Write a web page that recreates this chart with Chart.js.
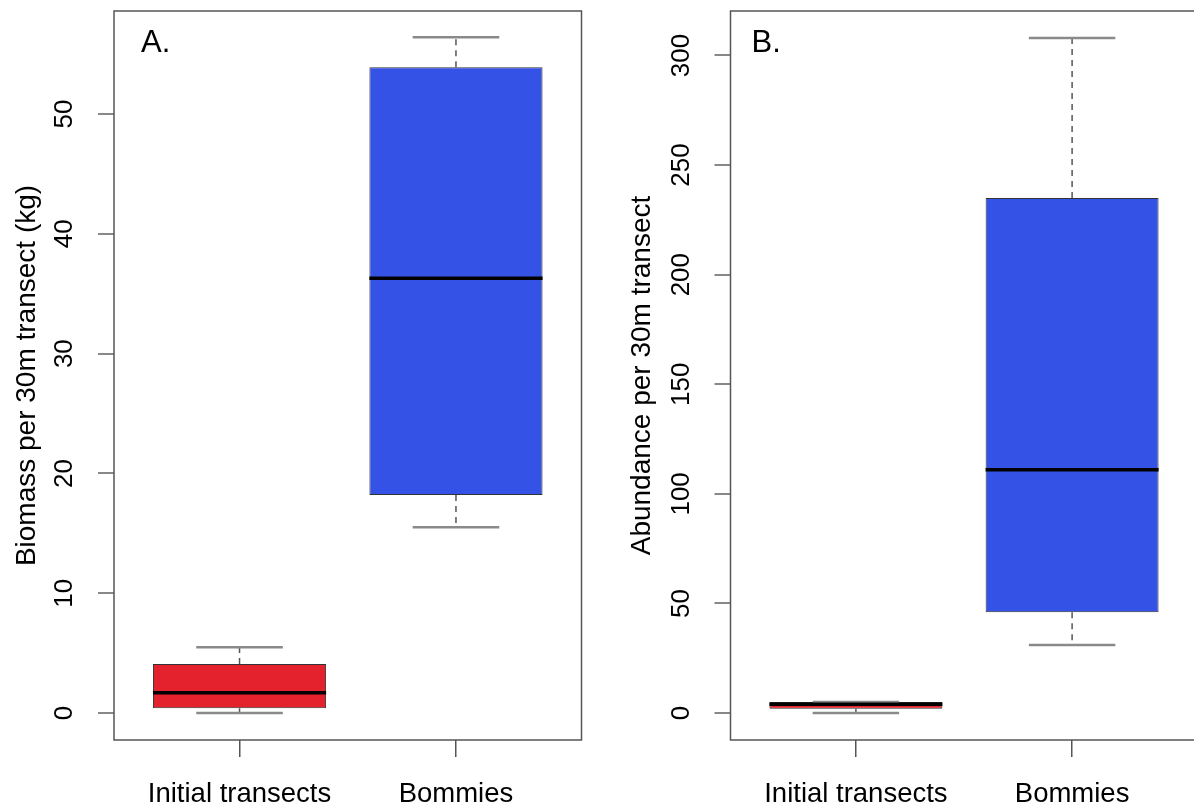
<!DOCTYPE html>
<html>
<head>
<meta charset="utf-8">
<script src="https://cdn.jsdelivr.net/npm/chart.js@4.4.1/dist/chart.umd.min.js"></script>
<style>
  html, body { margin: 0; padding: 0; background: #fff; overflow: hidden; }
  .panel { position: absolute; top: 0; height: 805px; }
  #panelA { left: 0; width: 597px; }
  #panelB { left: 597px; width: 603px; }
</style>
</head>
<body>
<div class="panel" id="panelA"><canvas id="chartA"></canvas></div>
<div class="panel" id="panelB"><canvas id="chartB"></canvas></div>
<script>
// Categories shared by both panels
const CATEGORIES = ['Initial transects', 'Bommies'];
const BOX_COLORS = ['#E3222E', '#3453E6'];

// Panel A: biomass per 30m transect (kg)
const BIOMASS_MIN = [0, 15.5];
const BIOMASS_Q1 = [0.4, 18.2];
const BIOMASS_MEDIAN = [1.7, 36.3];
const BIOMASS_Q3 = [4.1, 53.9];
const BIOMASS_MAX = [5.5, 56.4];
const BIOMASS_TICKS = [0, 10, 20, 30, 40, 50];
const BIOMASS_RANGE = [-2.25, 58.6];

// Panel B: abundance per 30m transect
const ABUND_MIN = [0, 31];
const ABUND_Q1 = [2, 46];
const ABUND_MEDIAN = [4, 111];
const ABUND_Q3 = [5, 235];
const ABUND_MAX = [5, 308];
const ABUND_TICKS = [0, 50, 100, 150, 200, 250, 300];
const ABUND_RANGE = [-12.3, 320.3];

const FONT = '"Liberation Sans", Arial, Helvetica, sans-serif';

// Whiskers, medians, frame and panel letter, all placed through the chart scales
const boxExtras = {
  id: 'boxExtras',
  afterDatasetsDraw(chart, args, opts) {
    const { ctx, chartArea } = chart;
    const xs = chart.scales.x;
    const ys = chart.scales.y;
    ctx.save();
    opts.medians.forEach((med, i) => {
      const c = i + 1;
      const xc = xs.getPixelForValue(c);
      // dashed whiskers
      ctx.strokeStyle = '#555';
      ctx.lineWidth = 1.5;
      ctx.setLineDash([6, 5]);
      ctx.beginPath();
      ctx.moveTo(xc, ys.getPixelForValue(opts.q3[i]));
      ctx.lineTo(xc, ys.getPixelForValue(opts.maxs[i]));
      ctx.moveTo(xc, ys.getPixelForValue(opts.q1[i]));
      ctx.lineTo(xc, ys.getPixelForValue(opts.mins[i]));
      ctx.stroke();
      ctx.setLineDash([]);
      // caps
      ctx.strokeStyle = '#8a8a8a';
      ctx.lineWidth = 2.5;
      ctx.beginPath();
      [opts.maxs[i], opts.mins[i]].forEach(v => {
        const y = ys.getPixelForValue(v);
        ctx.moveTo(xs.getPixelForValue(c - 0.2), y);
        ctx.lineTo(xs.getPixelForValue(c + 0.2), y);
      });
      ctx.stroke();
      // median
      ctx.strokeStyle = '#000';
      ctx.lineWidth = 3.5;
      ctx.beginPath();
      const ym = ys.getPixelForValue(med);
      ctx.moveTo(xs.getPixelForValue(c - 0.4), ym);
      ctx.lineTo(xs.getPixelForValue(c + 0.4), ym);
      ctx.stroke();
    });
    // plot frame
    ctx.strokeStyle = '#555';
    ctx.lineWidth = 1.5;
    ctx.strokeRect(chartArea.left, chartArea.top, chartArea.right - chartArea.left, chartArea.bottom - chartArea.top);
    // panel letter
    ctx.fillStyle = '#000';
    ctx.font = '31px ' + FONT;
    ctx.textBaseline = 'alphabetic';
    ctx.textAlign = 'left';
    ctx.fillText(opts.letter, chartArea.left + opts.letterDx, chartArea.top + 41);
    ctx.restore();
  }
};

function makeChart(canvasId, cfg) {
  return new Chart(document.getElementById(canvasId), {
    type: 'bar',
    data: {
      datasets: [{
        data: CATEGORIES.map((c, i) => ({ x: i + 1, y: [cfg.q1[i], cfg.q3[i]] })),
        backgroundColor: BOX_COLORS,
        borderColor: '#333',
        borderWidth: 1,
        borderSkipped: false,
        barPercentage: 0.8,
        categoryPercentage: 1
      }]
    },
    options: {
      responsive: true,
      maintainAspectRatio: false,
      animation: false,
      layout: { padding: { top: 11, right: cfg.padRight, bottom: 0, left: 0 } },
      plugins: {
        legend: { display: false },
        tooltip: { enabled: false },
        boxExtras: {
          mins: cfg.mins, q1: cfg.q1, medians: cfg.medians, q3: cfg.q3, maxs: cfg.maxs,
          letter: cfg.letter, letterDx: cfg.letterDx
        }
      },
      scales: {
        x: {
          type: 'linear',
          min: 0.42,
          max: 2.58,
          offset: false,
          afterBuildTicks: (scale) => { scale.ticks = CATEGORIES.map((c, i) => ({ value: i + 1 })); },
          afterFit: (scale) => {
            scale.height = 65;
            scale.paddingLeft = 0;
            scale.paddingRight = 0;
          },
          ticks: {
            callback: (v) => CATEGORIES[v - 1],
            font: { family: FONT, size: 27.5 },
            color: '#000',
            padding: 21,
            maxRotation: 0,
            autoSkip: false
          },
          grid: { offset: false, drawOnChartArea: false, drawTicks: true, tickLength: 17, color: '#555', lineWidth: 1.5 },
          border: { display: false }
        },
        y: {
          min: cfg.range[0],
          max: cfg.range[1],
          afterBuildTicks: (scale) => { scale.ticks = cfg.ticks.map(v => ({ value: v })); },
          afterFit: (scale) => {
            scale.width = cfg.axisWidth;
            scale.paddingTop = 0;
            scale.paddingBottom = 0;
          },
          ticks: {
            callback: (v) => String(v),
            font: { family: FONT, size: 26 },
            color: '#000',
            minRotation: 90,
            maxRotation: 90,
            crossAlign: 'center',
            padding: cfg.tickPad
          },
          grid: { drawOnChartArea: false, drawTicks: true, tickLength: 16, color: '#888', lineWidth: 2 },
          border: { display: false },
          title: {
            display: true,
            text: cfg.title,
            font: { family: FONT, size: 28 },
            color: '#000',
            padding: { top: cfg.titlePad, bottom: 0 }
          }
        }
      }
    },
    plugins: [boxExtras]
  });
}

makeChart('chartA', {
  q1: BIOMASS_Q1, q3: BIOMASS_Q3, mins: BIOMASS_MIN, maxs: BIOMASS_MAX, medians: BIOMASS_MEDIAN,
  ticks: BIOMASS_TICKS, range: BIOMASS_RANGE,
  title: 'Biomass per 30m transect (kg)',
  letter: 'A.', letterDx: 27,
  axisWidth: 114, padRight: 15.5, tickPad: 18.5, titlePad: 10.2
});

makeChart('chartB', {
  q1: ABUND_Q1, q3: ABUND_Q3, mins: ABUND_MIN, maxs: ABUND_MAX, medians: ABUND_MEDIAN,
  ticks: ABUND_TICKS, range: ABUND_RANGE,
  title: 'Abundance per 30m transect',
  letter: 'B.', letterDx: 21,
  axisWidth: 133.5, padRight: 2.5, tickPad: 11.3, titlePad: 28.7
});
</script>
</body>
</html>
